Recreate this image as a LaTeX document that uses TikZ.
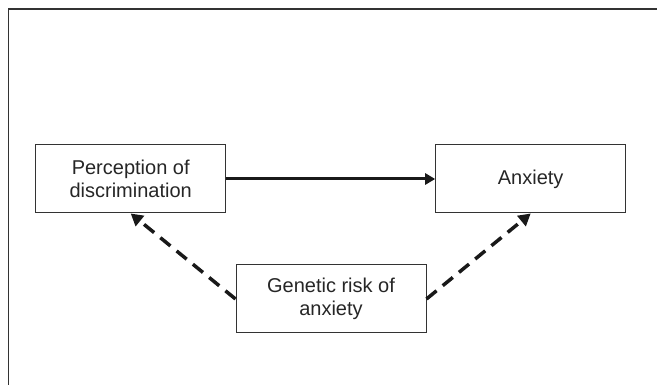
\documentclass[tikz,border=0pt]{standalone}
\usepackage{fontspec}
\setmainfont{Liberation Sans}
\usetikzlibrary{arrows.meta}
\begin{document}
\begin{tikzpicture}[x=1pt,y=-1pt,
        box/.style={draw=black!80,line width=1pt,minimum width=190pt,minimum height=68pt,
            inner sep=0pt,align=center,text=black!85,font=\fontsize{20}{23}\selectfont},
        link/.style={line width=3pt,black!90,-{Triangle[length=10pt,width=11pt]}},
        genlink/.style={line width=3.5pt,black!90,dash pattern=on 13pt off 8pt,
            -{Triangle[length=12pt,width=13pt]}}]
        \useasboundingbox (0,0) rectangle (657,385);
        \draw[black!80,line width=1.2pt] (8.5,385) -- (8.5,9) -- (657,9);
        \node[box] (perc) at (130.7,179) {Perception of\\discrimination};
        \node[box] (anx) at (530.7,179) {Anxiety};
        \node[box] (gen) at (331,299) {Genetic risk of\\anxiety};
        \draw[link] (perc) -- (anx);
        \draw[genlink] (gen.west) -- (perc.south);
        \draw[genlink] (gen.east) -- (anx.south);
    \end{tikzpicture}
\end{document}
